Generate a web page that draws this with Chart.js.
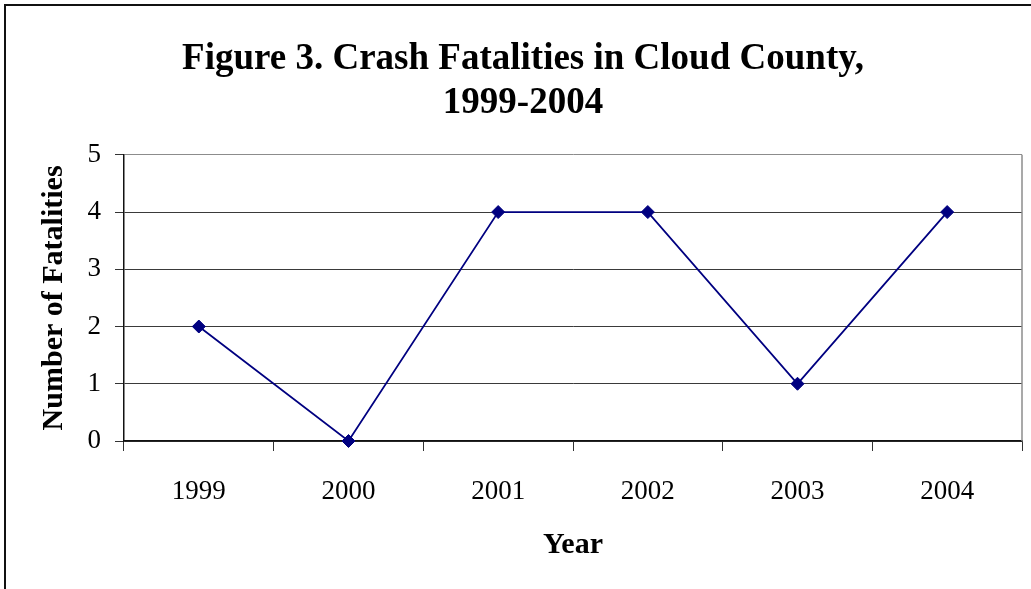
<!DOCTYPE html>
<html>
<head>
<meta charset="utf-8">
<script src="https://cdn.jsdelivr.net/npm/chart.js@4/dist/chart.umd.min.js"></script>
<style>
  html, body { margin: 0; padding: 0; background: #fff; }
  #wrap { position: relative; width: 1031px; height: 589px; overflow: hidden; }
  #frame { position: absolute; left: 4px; top: 4px; width: 1100px; height: 700px;
           border-top: 2px solid #111; border-left: 2px solid #111; box-sizing: border-box; }
  canvas { position: absolute; left: 0; top: 0; }
</style>
</head>
<body>
<div id="wrap">
  <div id="frame"></div>
  <canvas id="c" width="1031" height="589"></canvas>
</div>
<script>
const titleLines = ['Figure 3. Crash Fatalities in Cloud County,', '1999-2004'];
const years = ['1999', '2000', '2001', '2002', '2003', '2004'];
const fatalities = [2, 0, 4, 4, 1, 4];
const yMin = 0;
const yMax = 5;
const yStep = 1;
const xTitle = 'Year';
const yTitle = 'Number of Fatalities';

const FONT = "'Liberation Serif', 'Times New Roman', serif";

const plotFrame = {
  id: 'plotFrame',
  afterDraw(chart) {
    const a = chart.chartArea, ctx = chart.ctx;
    ctx.save();
    ctx.strokeStyle = '#8c8c8c';
    ctx.lineWidth = 1.5;
    ctx.beginPath();
    ctx.moveTo(a.right, a.top);
    ctx.lineTo(a.right, a.bottom);
    ctx.stroke();
    ctx.restore();
  }
};

new Chart(document.getElementById('c'), {
  type: 'line',
  data: {
    labels: years,
    datasets: [{
      data: fatalities,
      borderColor: '#000080',
      backgroundColor: '#000080',
      borderWidth: 1.8,
      pointStyle: 'rectRot',
      pointRadius: 6.5,
      pointHoverRadius: 6.5,
      pointBorderWidth: 1,
      pointBackgroundColor: '#000080',
      pointBorderColor: '#000080',
      tension: 0,
      clip: false
    }]
  },
  options: {
    responsive: false,
    animation: false,
    devicePixelRatio: 1,
    layout: { padding: { left: 24, right: 9, top: 0, bottom: 0 } },
    plugins: {
      legend: { display: false },
      tooltip: { enabled: false },
      title: {
        display: true,
        text: titleLines,
        color: '#000',
        font: { family: FONT, size: 37, weight: 'bold', lineHeight: 1.18 },
        padding: { top: 38, bottom: 29.5 }
      }
    },
    scales: {
      x: {
        type: 'category',
        offset: true,
        afterFit(scale) { scale.height = 148; },
        grid: {
          offset: true,
          drawOnChartArea: false,
          drawTicks: true,
          tickLength: 10,
          tickColor: '#333',
          color: '#333'
        },
        border: { display: true, color: '#111', width: 1.5 },
        ticks: {
          color: '#000',
          padding: 25,
          maxRotation: 0,
          font: { family: FONT, size: 27 }
        },
        title: {
          display: true,
          text: xTitle,
          color: '#000',
          font: { family: FONT, size: 30, weight: 'bold', lineHeight: 1.2 },
          padding: { top: 0, bottom: 26 }
        }
      },
      y: {
        min: yMin,
        max: yMax,
        afterFit(scale) { scale.width = 100; },
        grid: {
          drawTicks: true,
          tickLength: 9,
          color: (ctx) => (ctx.tick && ctx.tick.value === yMax) ? '#8c8c8c' : '#3a3a3a',
          tickColor: '#333',
          lineWidth: 1
        },
        border: { display: true, color: '#111', width: 1.5 },
        ticks: {
          stepSize: yStep,
          color: '#000',
          padding: 14,
          font: { family: FONT, size: 27 }
        },
        title: {
          display: true,
          text: yTitle,
          color: '#000',
          font: { family: FONT, size: 30, weight: 'bold', lineHeight: 1.2 },
          padding: { top: 12, bottom: 0 }
        }
      }
    }
  },
  plugins: [plotFrame]
});
</script>
</body>
</html>
